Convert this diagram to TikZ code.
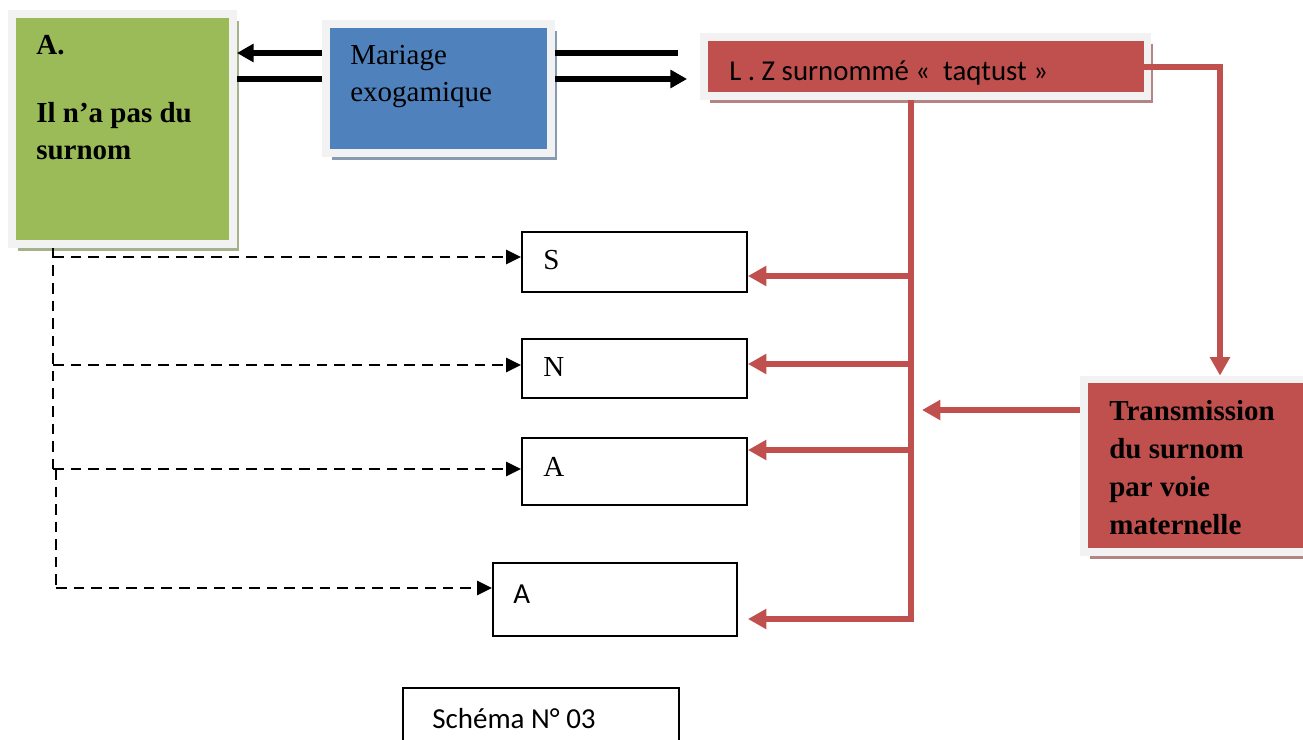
\documentclass[tikz,border=0pt]{standalone}
\usepackage{fontspec}
\setmainfont{Liberation Serif}
\newfontfamily\calibri{Carlito}
\usetikzlibrary{arrows.meta,shadows,positioning}
\definecolor{boxgreen}{HTML}{9BBB59}
\definecolor{boxblue}{HTML}{4F81BD}
\definecolor{boxred}{HTML}{C0504D}
\definecolor{framegray}{HTML}{F2F2F2}

\begin{document}
\begin{tikzpicture}[x=0.02cm,y=-0.02cm,
  framebox/.style={draw=framegray,fill=#1,line width=4.5pt,inner sep=0pt,
    drop shadow={shadow xshift=3.2pt,shadow yshift=-4.2pt,fill=#1!50!gray!80,opacity=1}},
  whitebox/.style={draw=black,line width=1.1pt,inner sep=0pt},
  txt/.style={anchor=north west,inner sep=0pt,align=left,font=\fontsize{16.5}{21}\selectfont},
  sanstxt/.style={txt,font=\calibri\fontsize{16.5}{20}\selectfont},
  blkline/.style={line width=2.9pt},
  blkarrow/.style={blkline,-{Triangle[length=9.5pt,width=10pt]}},
  redline/.style={draw=boxred,line width=3.4pt},
  redarrow/.style={redline,-{Triangle[length=10.5pt,width=11pt]}},
  dashline/.style={line width=1.5pt,dash pattern=on 6pt off 4pt},
  dasharrow/.style={dashline,-{Triangle[length=8.5pt,width=8pt]}}]
\useasboundingbox (0,0) rectangle (1303,740);

% Top row of framed boxes
\node[framebox=boxgreen,minimum width=4.42cm,minimum height=4.6cm] (green) at (122.5,129) {};
\node[txt,font=\fontsize{16.5}{21}\selectfont\bfseries] (greentxt) at (36,35) {A.\\[17.5pt]Il n’a pas du\\surnom};

\node[framebox=boxblue,minimum width=4.5cm,minimum height=2.58cm] (blue) at (438.5,88.5) {};
\node[txt] (bluetxt) at (350,45) {Mariage\\exogamique};

\node[framebox=boxred,minimum width=8.87cm,minimum height=1.18cm] (redtop) at (925.75,66.5) {};
\node[txt,font=\calibri\fontsize{16.4}{19}\selectfont] (redtxt) at (729,60) {L . Z surnommé «\ \ taqtust »};

\node[framebox=boxred,minimum width=4.8cm,minimum height=3.45cm] (trans) at (1204,465.75) {};
\node[txt,font=\fontsize{16.5}{21.7}\selectfont\bfseries] (transtxt) at (1109,400) {Transmission\\du surnom\\par voie\\maternelle};

% Children boxes
\node[whitebox,minimum width=4.5cm,minimum height=1.2cm] (boxS) at (634.5,262) {};
\node[txt] (txtS) at (543,250) {S};
\node[whitebox,minimum width=4.5cm,minimum height=1.18cm] (boxN) at (634.5,368.5) {};
\node[txt] (txtN) at (543,357) {N};
\node[whitebox,minimum width=4.5cm,minimum height=1.34cm] (boxA) at (634.5,471.5) {};
\node[txt] (txtA) at (543,457) {A};
\node[whitebox,minimum width=4.88cm,minimum height=1.46cm] (boxAA) at (615,599.5) {};
\node[sanstxt] (txtAA) at (513,585) {A};

% Caption
\node[whitebox,minimum width=5.52cm,minimum height=1.44cm] (schema) at (541,724) {};
\node[sanstxt] (schematxt) at (432,708) {Schéma N° 03};

% Black arrows around the blue box
\coordinate (outtop) at (678,53);
\draw[blkarrow] (blue.west |- 0,53) -- (green.east |- 0,53);
\draw[blkline] (green.east |- 0,79) -- (blue.west |- 0,79);
\draw[blkline] (blue.east |- outtop) -- (outtop);
\draw[blkarrow,shorten >=7.4pt] (blue.east |- 0,79) -- (redtop.west |- 0,79);

% Red connectors
\coordinate (rcorner) at (1220,67);
\draw[redarrow,shorten <=-4.5pt] (redtop.east |- rcorner) -- (rcorner) -- (rcorner |- trans.north);
\coordinate (jS) at (911,276);
\coordinate (jN) at (911,364);
\coordinate (jA) at (911,450);
\coordinate (jAA) at (911,619);
\draw[redarrow,shorten >=5.7pt] (redtop.south -| jAA) |- (boxAA.east |- jAA);
\draw[redarrow] (jS) -- (boxS.east |- jS);
\draw[redarrow] (jN) -- (boxN.east |- jN);
\draw[redarrow] (jA) -- (boxA.east |- jA);
\coordinate (transtip) at (922,410);
\draw[redarrow] (trans.west |- transtip) -- (transtip);

% Dashed links from the green box
\coordinate (dS) at (53,257);
\coordinate (dN) at (53,365);
\coordinate (dA) at (53,469);
\coordinate (dAAtop) at (56,469);
\coordinate (dAA) at (56,588);
\draw[dashline] (green.south -| dS) -- (dA);
\draw[dashline] (dAAtop) -- (dAA);
\draw[dasharrow] (dS) -- (boxS.west |- dS);
\draw[dasharrow] (dN) -- (boxN.west |- dN);
\draw[dasharrow] (dA) -- (boxA.west |- dA);
\draw[dasharrow] (dAA) -- (boxAA.west |- dAA);
\end{tikzpicture}
\end{document}
